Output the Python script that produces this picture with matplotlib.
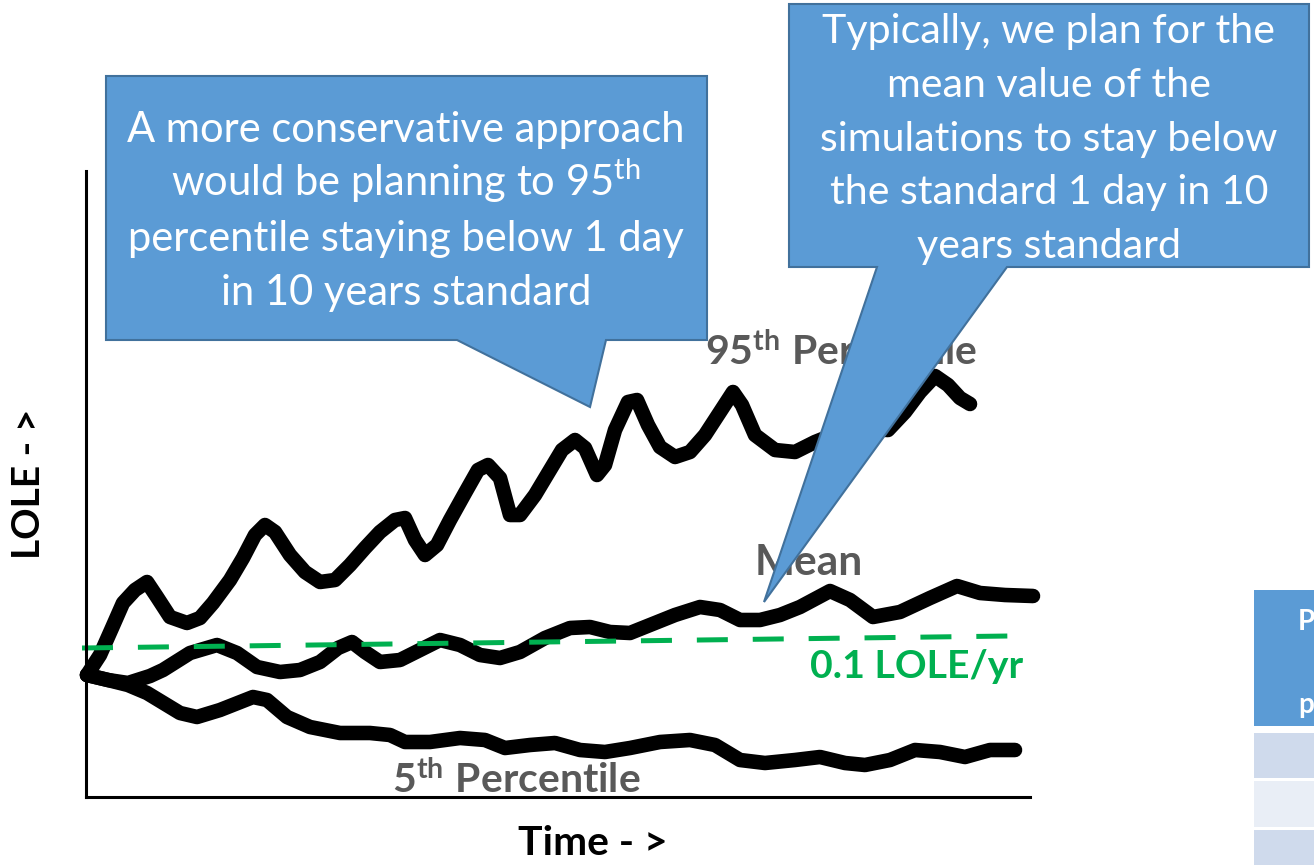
import matplotlib
matplotlib.use("Agg")
import matplotlib.pyplot as plt
from matplotlib.patches import Polygon, Rectangle

plt.rcParams['font.family'] = ['Lato', 'DejaVu Sans']
plt.rcParams['mathtext.fontset'] = 'custom'
plt.rcParams['mathtext.rm'] = 'Lato'
plt.rcParams['mathtext.bf'] = 'Lato:bold'
plt.rcParams['mathtext.it'] = 'Lato:italic'

# schematic chart: time and LOLE in arbitrary units (no ticks on the original)
p95_t = [1, 14, 26, 37, 49, 61, 71, 84, 101, 114, 127, 144, 157, 169, 179, 189, 204, 219, 234, 249,
         264, 279, 294, 309, 319, 329, 339, 351, 364, 379, 392, 402, 414, 424, 434, 449, 464, 476, 489, 499,
         511, 519, 529, 542, 551, 562, 574, 589, 604, 619, 634, 647, 656, 669, 689, 709, 729, 764, 802, 819,
         834, 849, 862, 874, 884]
p95_v = [122, 142, 169, 194, 207, 215, 200, 180, 174, 179, 194, 217, 239, 262, 272, 265, 242, 225, 215, 217,
         232, 249, 265, 277, 279, 257, 242, 252, 277, 304, 327, 332, 319, 282, 282, 302, 327, 347, 357, 349,
         322, 332, 367, 395, 397, 372, 350, 340, 345, 362, 385, 405, 392, 362, 347, 345, 355, 369, 367, 385,
         405, 421, 412, 399, 393]

mean_t = [1, 22, 42, 64, 77, 104, 131, 151, 171, 194, 214, 234, 252, 266, 279, 294, 314, 334, 354, 374,
          394, 414, 434, 459, 484, 504, 524, 544, 564, 589, 614, 634, 654, 674, 694, 714, 744, 764, 787, 814,
          844, 871, 894, 919, 947]
mean_v = [122, 117, 114, 121, 127, 144, 152, 144, 130, 125, 127, 135, 149, 155, 145, 135, 137, 147, 157, 152,
          142, 139, 145, 159, 169, 170, 165, 164, 172, 182, 190, 187, 177, 177, 182, 190, 206, 197, 180, 185,
          199, 211, 204, 202, 201]

p5_t = [1, 22, 42, 61, 94, 111, 134, 167, 181, 201, 224, 254, 284, 304, 319, 344, 374, 399, 419, 444,
        469, 494, 519, 544, 574, 604, 629, 654, 679, 709, 734, 759, 779, 804, 829, 854, 879, 904, 929]
p5_v = [122, 117, 112, 104, 84, 80, 87, 100, 97, 80, 70, 64, 64, 62, 55, 55, 59, 57, 49, 52,
        54, 47, 45, 49, 55, 57, 52, 37, 34, 37, 40, 34, 32, 37, 47, 45, 40, 47, 47]

std_t = [-4, 923]
std_v = [149, 161]

callout_left = ["A more conservative approach",
                r"would be planning to 95$^{\mathrm{th}}$",
                "percentile staying below 1 day",
                "in 10 years standard"]
callout_right = ["Typically, we plan for the",
                 "mean value of the",
                 "simulations to stay below",
                 "the standard 1 day in 10",
                 "years standard"]

BLUE = '#5B9BD5'
EDGE = '#41719C'
GREEN = '#00B050'
GREY = '#595959'

W, H = 1314, 865
fig = plt.figure(figsize=(W / 100, H / 100), dpi=100)

ax = fig.add_axes([86 / W, (H - 797) / H, (1030 - 86) / W, (797 - 171) / H])
ax.set_xlim(0, 944)
ax.set_ylim(0, 626)
for s in ['top', 'right']:
    ax.spines[s].set_visible(False)
for s in ['left', 'bottom']:
    ax.spines[s].set_linewidth(2.2)
ax.set_xticks([])
ax.set_yticks([])

for t, v in [(p95_t, p95_v), (mean_t, mean_v), (p5_t, p5_v)]:
    ax.plot(t, v, color='black', lw=10.5, solid_capstyle='round', solid_joinstyle='round', clip_on=False)
ax.plot(std_t, std_v, color=GREEN, lw=3.6, dashes=(6.2, 4.98), dash_capstyle='butt', clip_on=False)

# overlay in pixel coordinates for labels and callouts
ov = fig.add_axes([0, 0, 1, 1])
ov.set_xlim(0, W)
ov.set_ylim(H, 0)
ov.axis('off')
ov.patch.set_visible(False)

ov.text(705, 365, r"$\mathbf{95^{th}\ Percentile}$", fontsize=29.5, color=GREY, va='baseline')
ov.text(755, 575, "Mean", fontsize=30.5, fontweight='bold', color=GREY, va='baseline')
ov.text(810, 678, "0.1 LOLE/yr", fontsize=28.3, fontweight='bold', color=GREEN, va='baseline')
ov.text(392, 793, r"$\mathbf{5^{th}\ Percentile}$", fontsize=29.5, color=GREY, va='baseline')
ov.text(518, 855, "Time - >", fontsize=29.4, fontweight='bold', color='black', va='baseline')
ov.text(28, 484, "LOLE - >", fontsize=28, fontweight='bold', color='black', rotation=90,
        ha='center', va='center')

# callouts
ov.add_patch(Polygon([(106, 76), (707, 76), (707, 340), (606, 340), (590, 407), (457, 340), (106, 340)],
                     closed=True, facecolor=BLUE, edgecolor=EDGE, lw=1.5, zorder=5))
ov.add_patch(Polygon([(789, 4), (1309, 4), (1309, 267), (1007, 267), (764, 602), (877, 267), (789, 267)],
                     closed=True, facecolor=BLUE, edgecolor=EDGE, lw=1.5, zorder=5))
for i, line in enumerate(callout_left):
    ov.text(406, 142 + i * 54.3, line, fontsize=30, color='white', ha='center', va='baseline', zorder=6)
for i, line in enumerate(callout_right):
    ov.text(1049, 43 + i * 53.8, line, fontsize=29.6, color='white', ha='center', va='baseline', zorder=6)

# table edge peeking in on the right
ov.add_patch(Rectangle((1254, 590), 80, 136, facecolor=BLUE, edgecolor='none'))
ov.add_patch(Rectangle((1254, 733), 80, 45, facecolor='#CFDAEC', edgecolor='none'))
ov.add_patch(Rectangle((1254, 781), 80, 46, facecolor='#E9EEF6', edgecolor='none'))
ov.add_patch(Rectangle((1254, 830), 80, 40, facecolor='#CFDAEC', edgecolor='none'))
ov.text(1298, 630, "P", fontsize=20, fontweight='bold', color='white', va='baseline')
ov.text(1298, 713, "p", fontsize=20, fontweight='bold', color='white', va='baseline')

fig.savefig("out.png", dpi=100)
